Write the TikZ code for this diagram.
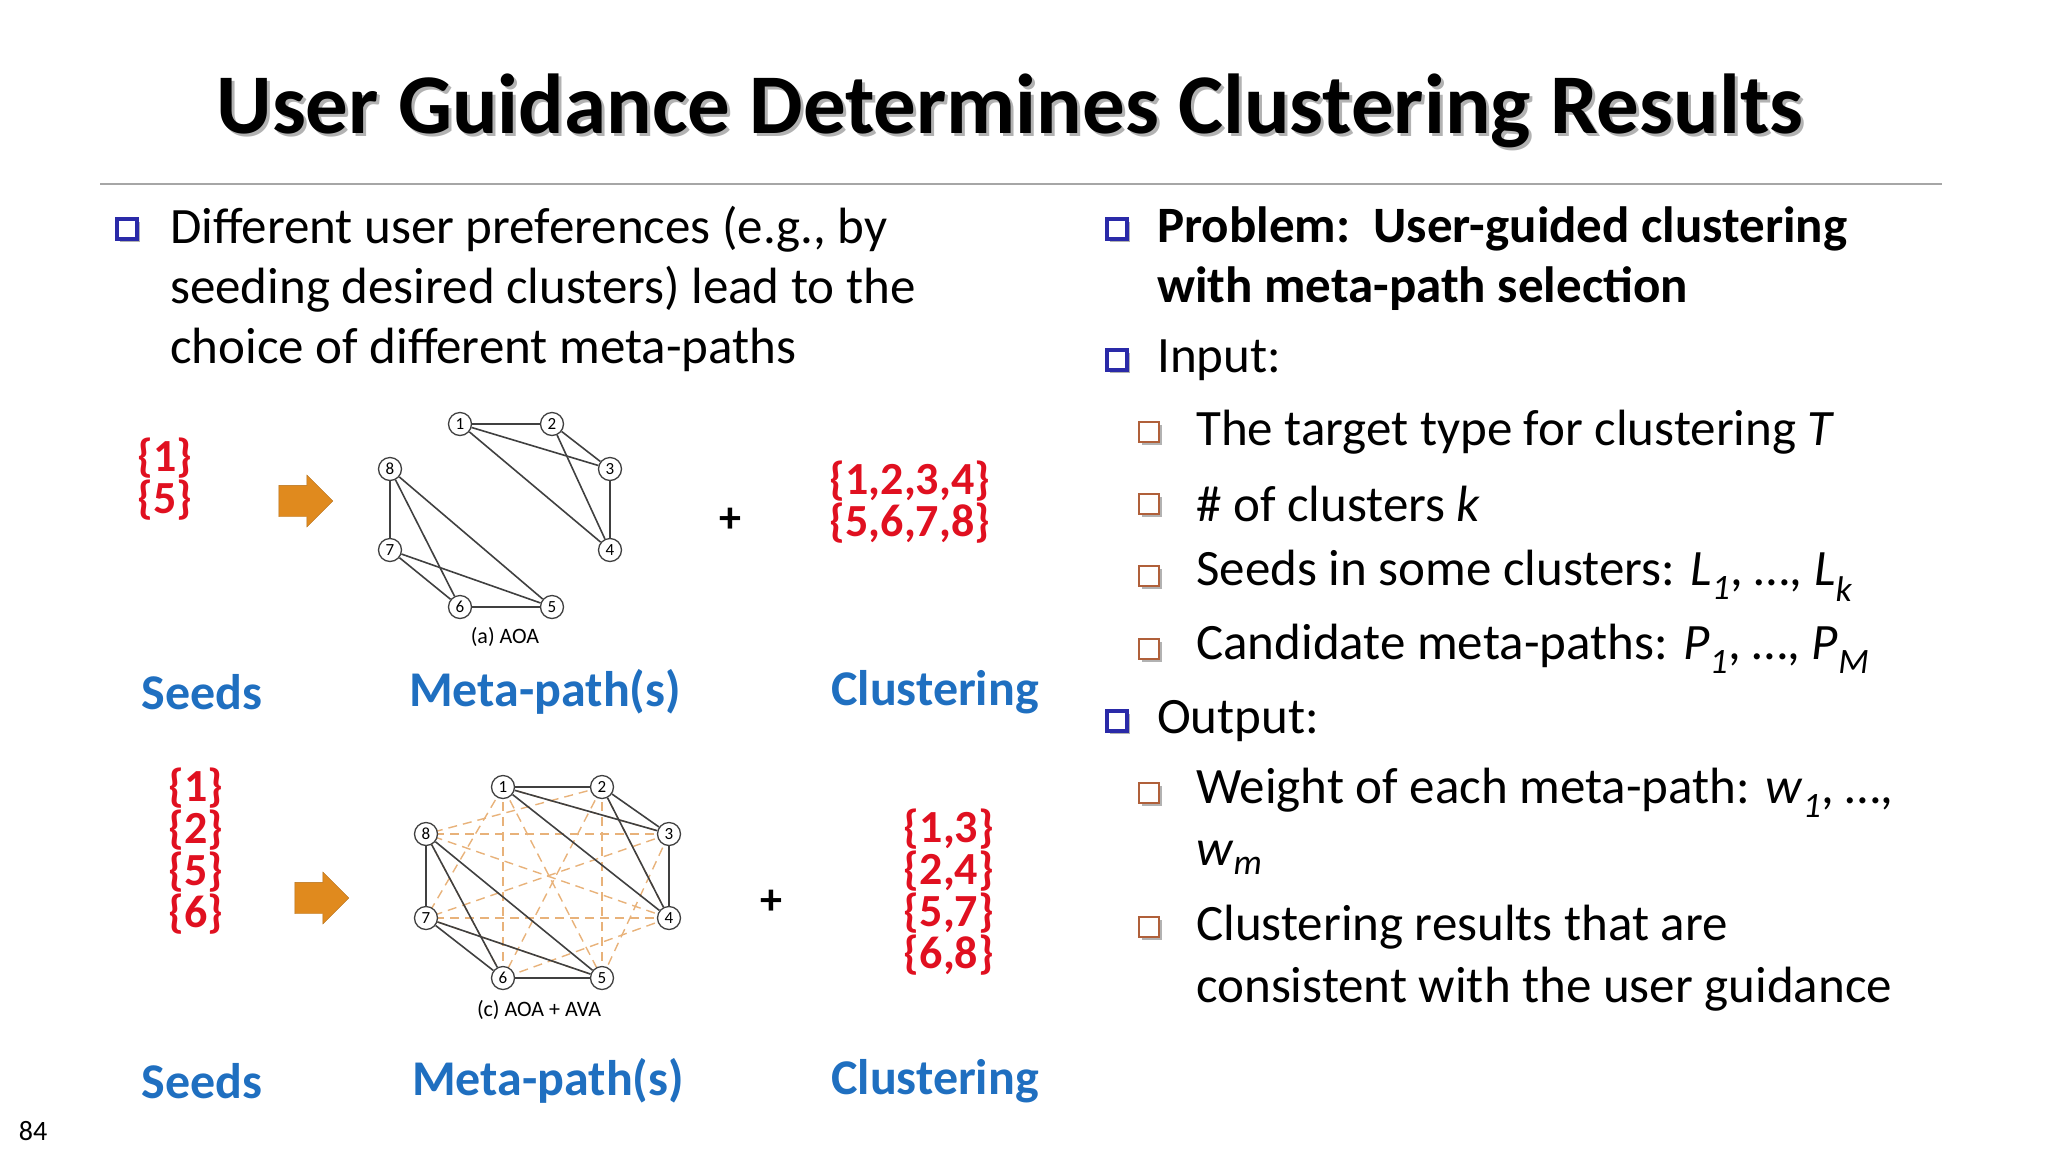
\documentclass[tikz,border=0pt]{standalone}
\usepackage{fontspec}
\setmainfont{Carlito}
\usetikzlibrary{shapes.arrows}
\newcommand{\sbs}[1]{\textsubscript{\textit{#1}}}
\definecolor{bblue}{HTML}{2A2AA8}
\definecolor{bbrown}{HTML}{B0603A}
\definecolor{lblue}{HTML}{1F6FC0}
\definecolor{sred}{HTML}{E01020}
\definecolor{aorange}{HTML}{E08A1E}
\definecolor{dorange}{HTML}{E8B27A}
\begin{document}
\begin{tikzpicture}[x=1pt,y=-1pt,
 body/.style={anchor=west,font=\fontsize{51}{56}\selectfont,inner sep=0},
 bulA/.style={draw=bblue,line width=3.2pt,minimum size=20pt,inner sep=0,fill=white},
 bulB/.style={draw=bbrown,line width=2.8pt,minimum size=20pt,inner sep=0,fill=white},
 shad/.style={fill=gray!60,minimum size=20pt,inner sep=0},
 lab/.style={font=\fontsize{50}{54}\selectfont\bfseries,text=lblue},
 set/.style={font=\fontsize{46}{48}\selectfont\bfseries,text=sred,align=center},
 gv/.style={circle,draw=black!75,line width=1.3pt,fill=white,inner sep=0,minimum size=23pt,font=\fontsize{17}{17}\selectfont},
 ge/.style={draw=black!75,line width=1.6pt},
 gd/.style={draw=dorange,line width=1.4pt,dash pattern=on 9pt off 6pt},
 gcap/.style={font=\fontsize{22}{22}\selectfont},
 arr/.style={single arrow,draw=aorange!80!black,fill=aorange,minimum height=54pt,minimum width=52pt,single arrow head extend=8pt,inner sep=0}]
\useasboundingbox (0,0) rectangle (2048,1152);
% title
\node[font=\fontsize{85}{90}\selectfont\bfseries,text=gray!60] at (1013,114) {User Guidance Determines Clustering Results};
\node[font=\fontsize{85}{90}\selectfont\bfseries] (title) at (1010,111) {User Guidance Determines Clustering Results};
\draw[gray!70,line width=1.2pt] (100,184) -- (1942,184);
% left bullet
\node[shad] at (130,232) {};
\node[bulA] (lb1) at (127,229) {};
\node[body] (lt1) at (170,229) {Different user preferences (e.g., by};
\node[body] (lt2) at (170,289) {seeding desired clusters) lead to the};
\node[body] (lt3) at (170,350) {choice of different meta-paths};
% right bullets
\foreach \y/\n in {229/r1,360/r2,721/r3}{
  \node[shad] at (1120,\y+3) {};
  \node[bulA] (\n) at (1117,\y) {};}
\node[body,font=\fontsize{51}{56}\selectfont\bfseries] (rt1) at (1157,229) {Problem:\ \ User-guided clustering};
\node[body,font=\fontsize{51}{56}\selectfont\bfseries] (rt1b) at (1157,289) {with meta-path selection};
\node[body] (rt2) at (1157,360) {Input:};
\node[body] (rt3) at (1157,721) {Output:};
\foreach \y/\n in {432/s1,504/s2,576/s3,649/s4,793/s5,927/s6}{
  \node[shad] at (1152,\y+3) {};
  \node[bulB] (\n) at (1149,\y) {};}
\node[body] (st1) at (1196,432) {The target type for clustering \textit{T}};
\node[body] (st2) at (1196,504) {\# of clusters \textit{k}};
\node[body] (st3) at (1196,576) {Seeds in some clusters: \textit{L}\sbs{1}, …, \textit{L}\sbs{k}};
\node[body] (st4) at (1196,649) {Candidate meta-paths: \textit{P}\sbs{1}, …, \textit{P}\sbs{M}};
\node[body] (st5) at (1196,793) {Weight of each meta-path: \textit{w}\sbs{1}, …,};
\node[body] (st5b) at (1196,858) {\textit{w}\sbs{m}};
\node[body] (st6) at (1196,927) {Clustering results that are};
\node[body] (st6b) at (1196,989) {consistent with the user guidance};
% row 1
\node[set] (seeds1) at (165,479) {\{1\}\\[-6pt]\{5\}};
\node[arr] (ar1) at (298,501) {\rule{0pt}{24pt}};
\foreach \n/\x/\y in {1/460/424,2/552/424,3/610/469,4/610/550,5/552/607,6/460/607,7/390/550,8/390/469}
  \node[gv] (a\n) at (\x,\y) {\n};
\foreach \u/\v in {1/2,1/3,1/4,2/3,2/4,3/4,8/7,8/6,8/5,7/6,7/5,6/5}
  \draw[ge] (a\u) -- (a\v);
\node[gcap] (capa) at (505,637) {(a) AOA};
\node[font=\fontsize{44}{44}\selectfont\bfseries] (plus1) at (730,520) {+};
\node[set] (cl1) at (910,502) {\{1,2,3,4\}\\[-6pt]\{5,6,7,8\}};
\node[lab] (seedl1) at (202,692) {Seeds};
\node[lab] (mpl1) at (545,692) {Meta-path(s)};
\node[lab] (cll1) at (935,692) {Clustering};
% row 2
\node[set] (seeds2) at (196,851) {\{1\}\\[-6pt]\{2\}\\[-6pt]\{5\}\\[-6pt]\{6\}};
\node[arr] (ar2) at (314,898) {\rule{0pt}{24pt}};
\foreach \n/\x/\y in {1/503/787,2/602/787,3/669/834,4/669/918,5/602/978,6/503/978,7/426/918,8/426/834}
  \coordinate (p\n) at (\x,\y);
\foreach \u/\v in {1/5,1/7,2/8,2/6,2/4,3/7,3/5,4/8,4/6,6/8,5/7,1/3,1/6,2/5,3/8,4/7}
  \draw[gd] (p\u) -- (p\v);
\foreach \n in {1,...,8} \node[gv] (b\n) at (p\n) {\n};
\foreach \u/\v in {1/2,1/3,1/4,2/3,2/4,3/4,8/7,8/6,8/5,7/6,7/5,6/5}
  \draw[ge] (b\u) -- (b\v);
\node[gcap] (capc) at (539,1010) {(c) AOA + AVA};
\node[font=\fontsize{44}{44}\selectfont\bfseries] (plus2) at (771,902) {+};
\node[set] (cl2) at (949,892) {\{1,3\}\\[-6pt]\{2,4\}\\[-6pt]\{5,7\}\\[-6pt]\{6,8\}};
\node[lab] (seedl2) at (202,1081) {Seeds};
\node[lab] (mpl2) at (548,1081) {Meta-path(s)};
\node[lab] (cll2) at (935,1081) {Clustering};
\node[font=\fontsize{28}{28}\selectfont] (pg) at (33,1131) {84};
\end{tikzpicture}
\end{document}
